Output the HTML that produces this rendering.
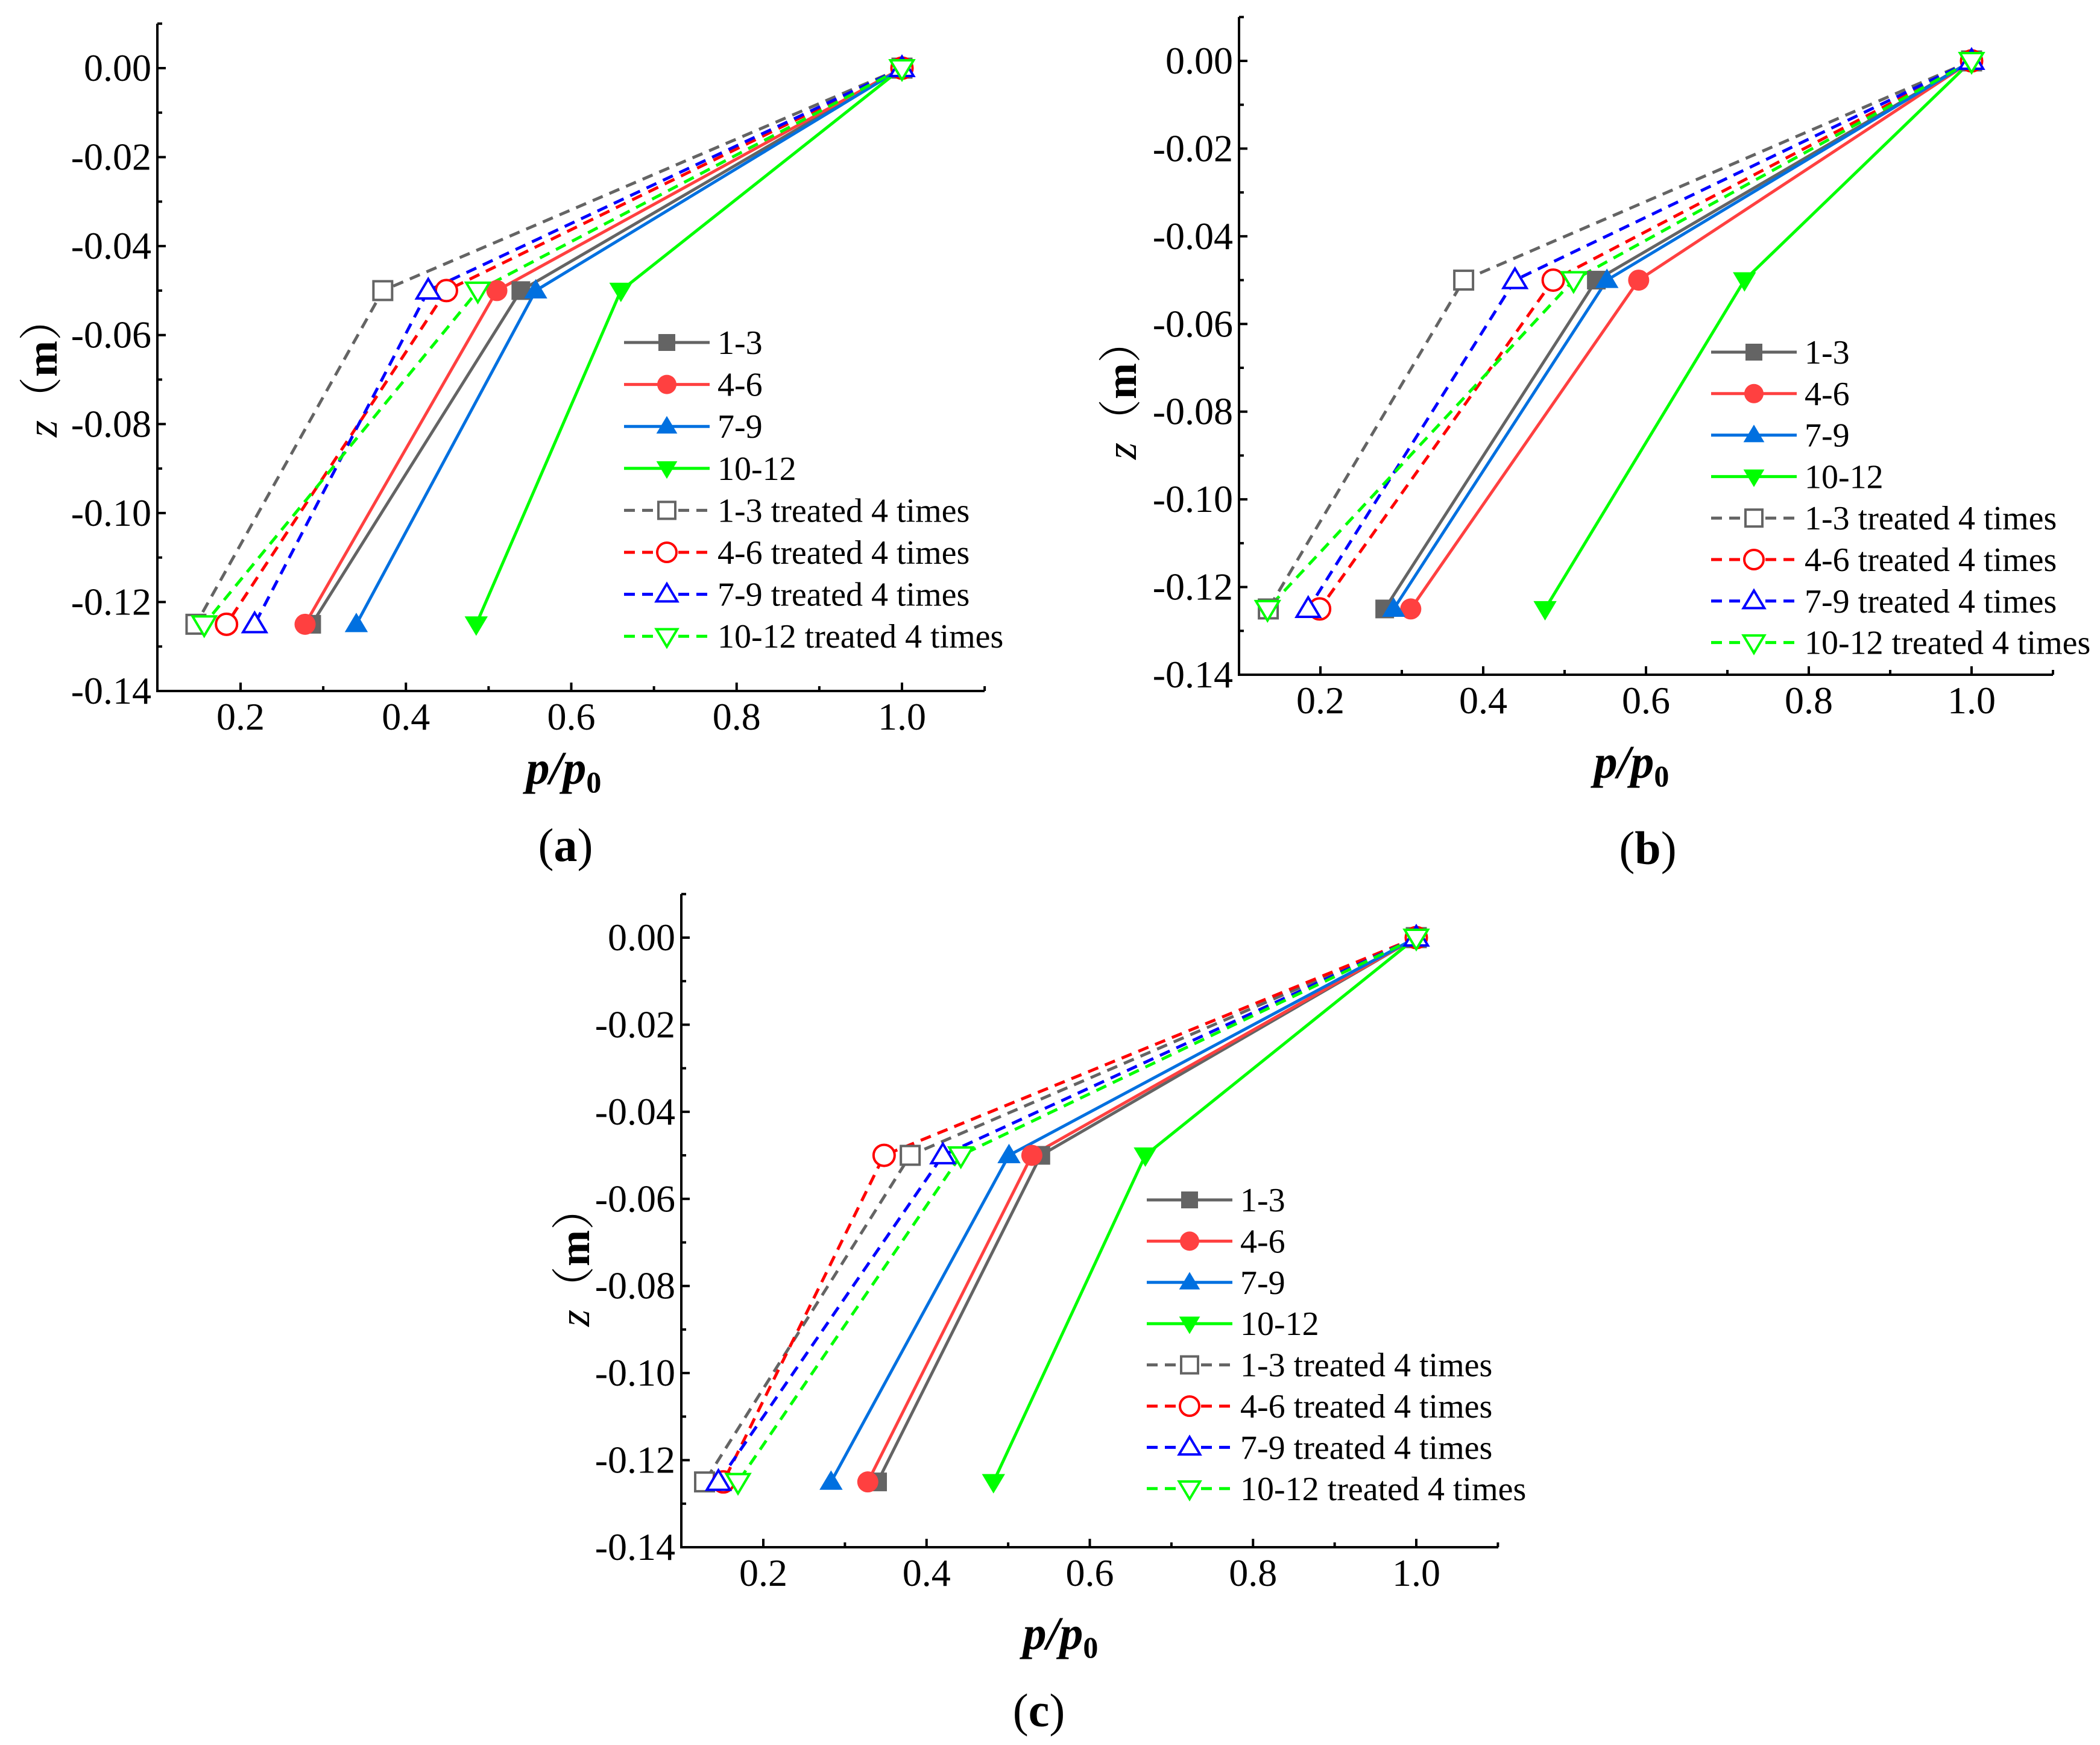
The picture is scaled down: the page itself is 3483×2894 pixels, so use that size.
<!DOCTYPE html>
<html><head><meta charset="utf-8"><style>
html,body{margin:0;padding:0;background:#fff}
svg{display:block}
text{font-family:"Liberation Serif",serif;fill:#000}
</style></head><body>
<svg id="fig" width="3483" height="2894" viewBox="0 0 3483 2894" xmlns="http://www.w3.org/2000/svg"></svg>
<script>
// depths (m)
const depths = [0, -0.05, -0.125];
const seriesNames = ["1-3","4-6","7-9","10-12","1-3 treated 4 times","4-6 treated 4 times","7-9 treated 4 times","10-12 treated 4 times"];
const xTicks = [0.2,0.4,0.6,0.8,1.0];
const xTickLabels = ["0.2","0.4","0.6","0.8","1.0"];
const yTicks = [0,-0.02,-0.04,-0.06,-0.08,-0.10,-0.12,-0.14];
const yTickLabels = ["0.00","-0.02","-0.04","-0.06","-0.08","-0.10","-0.12","-0.14"];
// panel (a) p/p0 values at depths 0, -0.05, -0.125
const a13 = [1.0,0.539,0.286];
const a46 = [1.0,0.510,0.278];
const a79 = [1.0,0.557,0.340];
const a1012 = [1.0,0.660,0.485];
const aT13 = [1.0,0.372,0.146];
const aT46 = [1.0,0.449,0.183];
const aT79 = [1.0,0.427,0.217];
const aT1012 = [1.0,0.487,0.156];
// panel (b)
const b13 = [1.0,0.539,0.279];
const b46 = [1.0,0.591,0.311];
const b79 = [1.0,0.552,0.290];
const b1012 = [1.0,0.721,0.476];
const bT13 = [1.0,0.376,0.136];
const bT46 = [1.0,0.486,0.199];
const bT79 = [1.0,0.439,0.185];
const bT1012 = [1.0,0.511,0.135];
// panel (c)
const c13 = [1.0,0.540,0.340];
const c46 = [1.0,0.529,0.328];
const c79 = [1.0,0.501,0.283];
const c1012 = [1.0,0.668,0.482];
const cT13 = [1.0,0.380,0.128];
const cT46 = [1.0,0.348,0.151];
const cT79 = [1.0,0.420,0.145];
const cT1012 = [1.0,0.442,0.169];

const styles = [
 {c:"#646464",m:"square",fill:true,dash:false},
 {c:"#ff4040",m:"circle",fill:true,dash:false},
 {c:"#0070e0",m:"up",fill:true,dash:false},
 {c:"#00ff00",m:"down",fill:true,dash:false},
 {c:"#646464",m:"square",fill:false,dash:true},
 {c:"#ff0000",m:"circle",fill:false,dash:true},
 {c:"#0000ff",m:"up",fill:false,dash:true},
 {c:"#00ff00",m:"down",fill:false,dash:true}
];
const panels = [
 {id:"a",data:[a13,a46,a79,a1012,aT13,aT46,aT79,aT1012],L:261,R:1633,x02:399,x10:1496,y0:113,y14:1146,
  legX:1035,legY:568,legDy:69.6,ytX:70,ytY:609,xtX:935,xtY:1278,capX:938,capY:1402},
 {id:"b",data:[b13,b46,b79,b1012,bT13,bT46,bT79,bT1012],L:2055,R:3405,x02:2190,x10:3270,y0:101,y14:1119,
  legX:2838,legY:584,legDy:68.8,ytX:1860,ytY:646,xtX:2706,xtY:1268,capX:2733,capY:1407},
 {id:"c",data:[c13,c46,c79,c1012,cT13,cT46,cT79,cT1012],L:1130,R:2485,x02:1266,x10:2349,y0:1555,y14:2566,
  legX:1902,legY:1990,legDy:68.4,ytX:953,ytY:2084,xtX:1759,xtY:2713,capX:1723,capY:2837}
];
const NS="http://www.w3.org/2000/svg";
const svg=document.getElementById("fig");
function mk(tag,attrs,parent){const e=document.createElementNS(NS,tag);for(const k in attrs)e.setAttribute(k,attrs[k]);(parent||svg).appendChild(e);return e;}
function marker(g,type,x,y,col,fill,s){
 const f=fill?col:"#fff", sw=fill?0:4;
 let e;
 if(type==="square"){e=mk("rect",{x:x-s/2,y:y-s/2,width:s,height:s,fill:f,stroke:col,"stroke-width":sw},g);}
 else if(type==="circle"){e=mk("circle",{cx:x,cy:y,r:s/2+2,fill:f,stroke:col,"stroke-width":sw},g);}
 else if(type==="up"){const h=s*1.0;e=mk("polygon",{points:`${x},${y-h*0.62} ${x-s*0.62},${y+h*0.42} ${x+s*0.62},${y+h*0.42}`,fill:f,stroke:col,"stroke-width":sw},g);}
 else {const h=s*1.0;e=mk("polygon",{points:`${x},${y+h*0.62} ${x-s*0.62},${y-h*0.42} ${x+s*0.62},${y-h*0.42}`,fill:f,stroke:col,"stroke-width":sw},g);}
 
 
}
panels.forEach(p=>{
 const g=mk("g",{});
 
 
 const sx=v=>p.x02+(v-0.2)*(p.x10-p.x02)/0.8;
 const sy=v=>p.y0+(-v)*(p.y14-p.y0)/0.14;
 const top=sy(0.01), bot=sy(-0.14);
 p.data.forEach((vals,i)=>{
  const st=styles[i];
  const pts=vals.map((v,j)=>sx(v)+","+sy(depths[j])).join(" ");
  const pl=mk("polyline",{points:pts,fill:"none",stroke:st.c,"stroke-width":5,"stroke-dasharray":st.dash?"18,12":"none","stroke-linejoin":"round"},g);
  
  
 });
 p.data.forEach((vals,i)=>{
  const st=styles[i];
  vals.forEach((v,j)=>marker(g,st.m,sx(v),sy(depths[j]),st.c,st.fill,31));
 });
 const ax=mk("path",{d:`M${p.L},${top} L${p.L},${bot} L${p.R},${bot}`,fill:"none",stroke:"#000","stroke-width":4},g);
 
 
 for(let k=1;k<=10;k++){
  const v=0.1+k*0.1; const x=sx(v); const major=(k%2===1);
  const t=mk("line",{x1:x,y1:bot,x2:x,y2:bot-(major?14:8),stroke:"#000","stroke-width":4},g);
  
  
 }
 for(let k=0;k<=15;k++){
  const v=0.01-k*0.01; const y=sy(v); const major=(k%2===1);
  const t=mk("line",{x1:p.L,y1:y,x2:p.L+(major?14:8),y2:y,stroke:"#000","stroke-width":4},g);
  
  
 }
 xTicks.forEach((v,i)=>{
  const t=mk("text",{x:sx(v),y:bot+64,"font-size":64,"text-anchor":"middle"},g);
  t.textContent=xTickLabels[i];
  
  
 });
 yTicks.forEach((v,i)=>{
  const t=mk("text",{x:p.L-10,y:sy(v)+21,"font-size":64,"text-anchor":"end"},g);
  t.textContent=yTickLabels[i];
  
  
 });
 const yt=mk("text",{x:0,y:0,"font-size":72,"text-anchor":"middle",transform:`translate(${p.ytX+24},${p.ytY}) rotate(-90)`},g);
 yt.innerHTML='<tspan font-style="italic">z</tspan><tspan font-family="Noto Serif CJK SC, serif">（</tspan><tspan font-weight="bold">m</tspan><tspan font-family="Noto Serif CJK SC, serif">）</tspan>';
 
 
 const xt=mk("text",{x:p.xtX,y:p.xtY+22,"font-size":78,"text-anchor":"middle","font-style":"italic","font-weight":"bold"},g);
 xt.innerHTML='p/p<tspan font-size="50" dy="14" font-style="normal">0</tspan>';
 
 
 const cap=mk("text",{x:p.capX,y:p.capY+26,"font-size":78,"text-anchor":"middle"},g);
 cap.innerHTML='(<tspan font-weight="bold">'+p.id+'</tspan>)';
 
 
 const lg=mk("g",{},g);
 
 
 seriesNames.forEach((n,i)=>{
  const st=styles[i]; const y=p.legY+i*p.legDy;
  const e=mk("g",{},lg);
  
  
  mk("line",{x1:p.legX,y1:y,x2:p.legX+142,y2:y,stroke:st.c,"stroke-width":5,"stroke-dasharray":st.dash?"18,12":"none"},e);
  marker(e,st.m,p.legX+71,y,st.c,st.fill,28);
  const t=mk("text",{x:p.legX+155,y:y+19,"font-size":56},e);
  t.textContent=n;
 });
});
</script>
</body></html>
